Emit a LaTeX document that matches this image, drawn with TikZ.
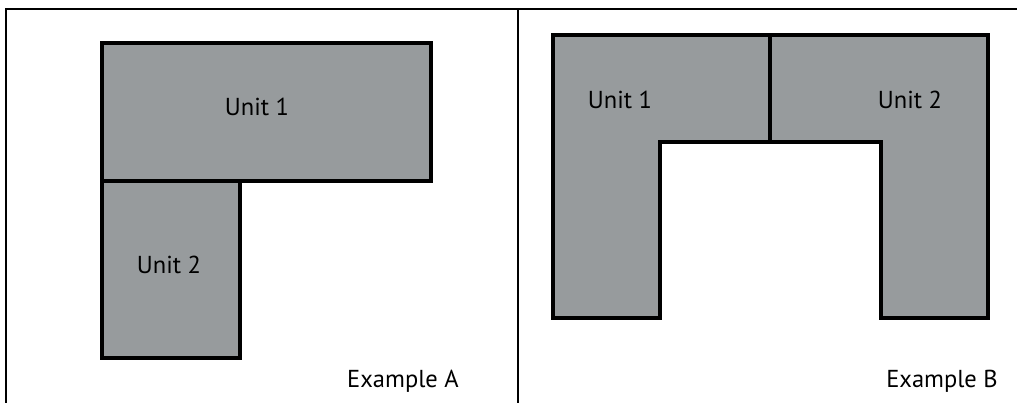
\documentclass[tikz,border=0pt]{standalone}
\usepackage{fontspec}
\setmainfont{PT Sans}
\definecolor{unitgray}{RGB}{151,155,157}
\begin{document}
\begin{tikzpicture}[x=1pt,y=-1pt,
  unit/.style={fill=unitgray,draw=black,line width=4pt,line join=miter},
  frame/.style={draw=black,line width=1.6pt},
  lbl/.style={font=\fontsize{24.5}{26}\selectfont,inner sep=0pt}]
\useasboundingbox (0,0) rectangle (1017,402);
% frame
\draw[frame] (6,405) -- (6,9) -- (1020,9);
\draw[frame] (518,9) -- (518,405);
% Example A
\draw[unit] (102,43) rectangle (431,181);
\draw[unit] (102,181) rectangle (240,358);
\node[lbl] (a1) at (257,107) {Unit 1};
\node[lbl] (a2) at (169,265) {Unit 2};
\node[lbl] (ea) at (403,381) {Example A};
% Example B
\draw[unit] (553,35) -- (988,35) -- (988,318) -- (881,318) -- (881,142) -- (660,142) -- (660,318) -- (553,318) -- cycle;
\draw[black,line width=4pt] (770,35) -- (770,142);
\node[lbl] (b1) at (620,100) {Unit 1};
\node[lbl] (b2) at (910,100) {Unit 2};
\node[lbl] (eb) at (942,381) {Example B};
\end{tikzpicture}
\end{document}
